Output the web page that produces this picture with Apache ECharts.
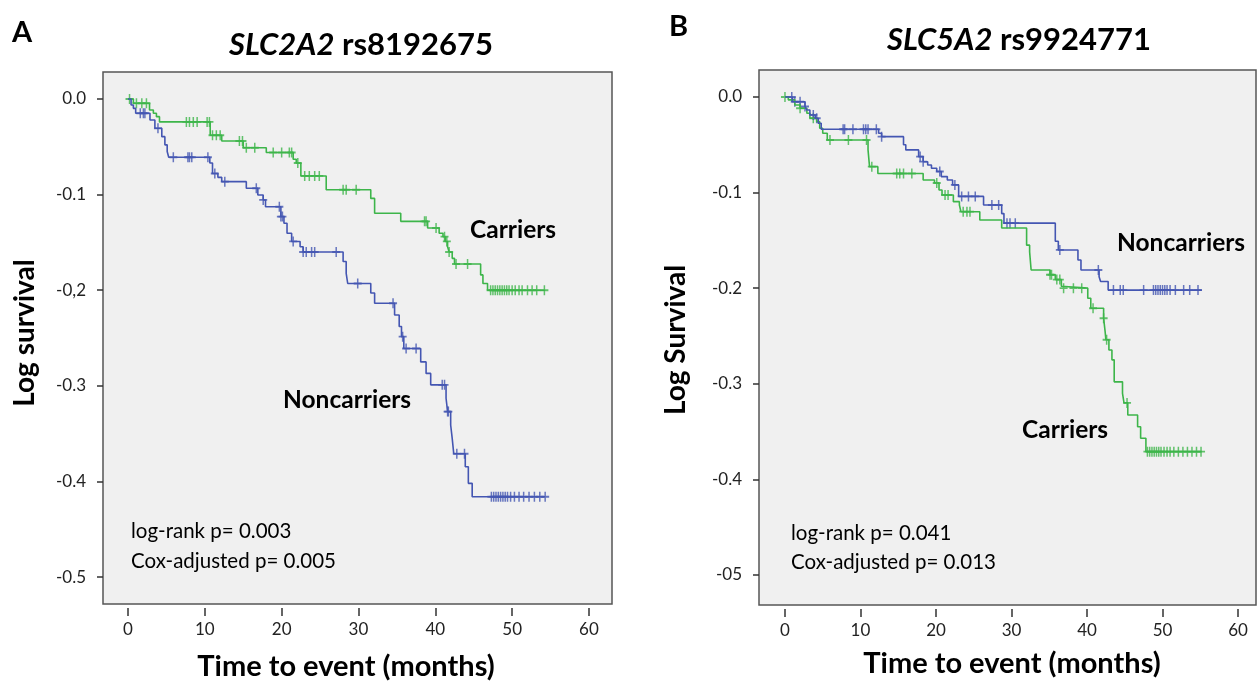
<!DOCTYPE html>
<html>
<head>
<meta charset="utf-8">
<script src="https://cdn.jsdelivr.net/npm/echarts@6/dist/echarts.min.js"></script>
<style>
  body { margin: 0; background: #fff; }
  #main { width: 1259px; height: 684px; }
</style>
</head>
<body>
<div id="main"></div>
<script>
// ---- data ----
const xTicks = [0, 10, 20, 30, 40, 50, 60]
const yTicks = [0, -0.1, -0.2, -0.3, -0.4, -0.5]
const yLabelsA = ['0.0', '-0.1', '-0,2', '-0.3', '-0.4', '-0.5']
const yLabelsB = ['0.0', '-0.1', '-0.2', '-0.3', '-0.4', '-05']

// panel A: SLC2A2 rs8192675, [time, log survival]
const aCarriers = [
  [0, 0], [0.7, -0.0045], [2.8, -0.0115], [3.3, -0.015], [3.7, -0.0185], [4.1, -0.024],
  [10.7, -0.038], [12.2, -0.044], [15.0, -0.051], [18.0, -0.056], [21.5, -0.063], [21.9, -0.067],
  [22.5, -0.0805], [25.8, -0.095], [31.6, -0.104], [32.1, -0.1195], [35.5, -0.128], [39.0, -0.135],
  [40.5, -0.1405], [41.0, -0.144], [41.3, -0.149], [41.6, -0.1545], [41.8, -0.16], [42.2, -0.1667],
  [42.5, -0.1726], [45.9, -0.184], [46.2, -0.193], [46.8, -0.2], [54.3, -0.2]
]
const aCarriersCensor = [
  0.2, 1.1, 1.8, 2.4, 7.6, 8.0, 8.5, 9.0, 10.3, 10.6, 11.0, 11.5, 12.0, 14.5, 14.9, 15.4, 16.5,
  18.9, 20.0, 21.0, 21.3, 22.1, 23.0, 23.6, 24.3, 24.9, 28.0, 28.4, 29.7, 38.6, 38.8, 40.1, 41.2,
  41.5, 41.8, 42.7, 44.2, 47.2, 47.5, 47.8, 48.1, 48.4, 48.7, 49.0, 49.3, 49.6, 50.0, 50.4, 50.9,
  51.3, 52.0, 52.6, 53.2, 54.2
]
const aNoncarriers = [
  [0, 0], [0.4, -0.0063], [0.7, -0.0098], [1.0, -0.015], [2.86, -0.022], [3.5, -0.0307],
  [4.4, -0.0394], [4.8, -0.048], [5.1, -0.055], [5.3, -0.061], [10.65, -0.067], [11.0, -0.078],
  [11.7, -0.082], [12.2, -0.0865], [15.4, -0.0934], [16.9, -0.1004], [17.6, -0.1056], [17.9, -0.1127],
  [19.9, -0.123], [20.3, -0.13], [20.7, -0.1405], [21.3, -0.149], [22.4, -0.1545], [22.8, -0.16],
  [28.0, -0.17], [28.4, -0.1824], [28.6, -0.193], [31.6, -0.203], [32.1, -0.2137], [34.7, -0.226],
  [35.3, -0.238], [35.6, -0.2486], [35.9, -0.261], [38.1, -0.275], [38.8, -0.287], [39.4, -0.299],
  [41.4, -0.313], [41.6, -0.327], [42.0, -0.341], [42.2, -0.355], [42.4, -0.371], [43.9, -0.3846],
  [44.3, -0.402], [44.8, -0.416], [54.3, -0.416]
]
const aNoncarriersCensor = [
  1.6, 2.0, 2.2, 3.9, 5.9, 7.8, 8.0, 8.3, 10.4, 11.3, 12.6, 16.7, 17.6, 19.7, 19.9, 20.1, 21.5,
  22.8, 23.2, 23.9, 24.3, 27.1, 29.9, 34.5, 35.75, 36.2, 37.5, 40.9, 41.2, 41.6, 41.7, 42.8, 43.8,
  47.3, 47.6, 47.9, 48.2, 48.5, 48.8, 49.1, 49.4, 49.8, 50.3, 50.9, 51.5, 52.2, 52.9, 53.6, 54.3
]

// panel B: SLC5A2 rs9924771
const bCarriers = [
  [0, 0], [0.44, -0.003], [1.3, -0.0084], [2.0, -0.0118], [2.9, -0.017], [3.3, -0.0223],
  [4.2, -0.0258], [4.6, -0.0328], [5.0, -0.038], [5.6, -0.045], [11.0, -0.0554], [11.2, -0.0729],
  [12.3, -0.08], [18.3, -0.0868], [19.8, -0.09], [20.4, -0.0973], [20.8, -0.1025], [22.3, -0.1095],
  [23.1, -0.113], [23.3, -0.12], [25.8, -0.1287], [28.7, -0.137], [32.0, -0.155], [32.4, -0.162],
  [32.6, -0.181], [35.1, -0.186], [35.8, -0.191], [36.6, -0.198], [36.8, -0.2], [40.1, -0.2106],
  [40.5, -0.221], [42.2, -0.2315], [42.4, -0.2455], [42.5, -0.254], [42.9, -0.2646], [43.3, -0.275],
  [43.6, -0.298], [44.7, -0.31], [44.9, -0.32], [45.4, -0.3326], [46.7, -0.345], [47.1, -0.357],
  [47.8, -0.371], [55.2, -0.371]
]
const bCarriersCensor = [
  0, 2.0, 3.75, 5.96, 8.4, 10.8, 11.5, 14.8, 15.2, 15.7, 16.8, 20.1, 21.2, 21.6, 23.6, 24.1, 24.5,
  35.1, 35.3, 36.0, 36.4, 36.9, 38.2, 39.3, 40.8, 42.2, 42.6, 45.3, 48.0, 48.3, 48.6, 48.9, 49.2,
  49.5, 49.8, 50.2, 50.6, 51.0, 51.5, 52.1, 52.7, 53.3, 53.9, 54.5, 55.1
]
const bNoncarriers = [
  [0, 0], [1.0, -0.005], [2.65, -0.01], [2.9, -0.0136], [3.3, -0.0188], [4.0, -0.0223],
  [4.4, -0.0275], [4.8, -0.0338], [12.4, -0.038], [12.8, -0.0415], [15.7, -0.05], [16.0, -0.0554],
  [17.7, -0.0624], [18.3, -0.0677], [18.9, -0.0711], [19.4, -0.0746], [20.1, -0.078], [20.7, -0.0833],
  [21.5, -0.0868], [22.2, -0.092], [23.0, -0.104], [26.3, -0.113], [28.7, -0.122], [29.0, -0.132],
  [35.8, -0.151], [36.2, -0.16], [38.8, -0.1705], [39.2, -0.181], [41.6, -0.188], [41.8, -0.193],
  [42.8, -0.202], [55.2, -0.202]
]
const bNoncarriersCensor = [
  0.9, 1.3, 2.0, 2.65, 3.75, 4.2, 7.7, 7.9, 9.0, 10.4, 10.7, 11.0, 12.1, 12.8, 17.9, 18.3, 20.5,
  22.5, 23.4, 24.3, 25.2, 27.4, 28.3, 29.4, 29.8, 30.5, 36.4, 41.5, 43.5, 44.4, 44.8, 47.5, 48.8,
  49.1, 49.4, 49.7, 50.0, 50.3, 50.6, 51.0, 51.7, 52.8, 53.6, 54.7
]

const GREEN = '#3db54a'
const BLUE = '#4456b2'
const FONT = 'Lato, "Open Sans", sans-serif'
// plus-shaped censor mark
const PLUS = 'path://M0,3.25H8V4.75H0Z M3.25,0H4.75V8H3.25Z'

// survival level of a step curve at time t (for placing the censor marks)
function levelAt(curve, t) {
  let v = curve[0][1]
  for (const p of curve) {
    if (p[0] <= t) v = p[1]
  }
  return v
}

function censorPoints(curve, times) {
  return times.map(t => [t, levelAt(curve, t)])
}

function xAxisFor(idx, min, max) {
  return {
    type: 'value', gridIndex: idx, min: min, max: max, offset: 4,
    axisLine: { show: false, onZero: false },
    axisTick: { show: true, length: 8, customValues: xTicks, lineStyle: { color: '#333', width: 1.5 } },
    axisLabel: { customValues: xTicks, margin: 13, fontSize: 17, color: '#222', fontFamily: FONT },
    splitLine: { show: false }
  }
}

function yAxisFor(idx, min, max, labels) {
  return {
    type: 'value', gridIndex: idx, min: min, max: max,
    axisLine: { show: false, onZero: false },
    axisTick: { show: true, length: 6, customValues: yTicks, lineStyle: { color: '#333', width: 1.5 } },
    axisLabel: {
      customValues: yTicks, margin: 17, fontSize: 17, color: '#222', fontFamily: FONT,
      formatter: v => labels[Math.round(-v * 10)]
    },
    splitLine: { show: false }
  }
}

function stepSeries(idx, data, color) {
  return {
    type: 'line', xAxisIndex: idx, yAxisIndex: idx, data: data, step: 'end',
    showSymbol: false, silent: true, animation: false,
    lineStyle: { color: color, width: 1.6 }
  }
}

function censorSeries(idx, curve, times, color) {
  return {
    type: 'scatter', xAxisIndex: idx, yAxisIndex: idx, data: censorPoints(curve, times),
    symbol: PLUS, symbolSize: [8, 10], silent: true, animation: false,
    itemStyle: { color: color }
  }
}

function label(text, x, y, size, weight, extra) {
  return {
    type: 'text', x: x, y: y, silent: true,
    style: Object.assign({
      text: text, fontSize: size, fontWeight: weight, fontFamily: FONT, fill: '#000',
      align: 'left', verticalAlign: 'middle'
    }, extra || {})
  }
}

const titleRich = {
  i: { fontStyle: 'italic', fontWeight: 'bold', fontSize: 31, fontFamily: FONT, fill: '#000' },
  b: { fontWeight: 'bold', fontSize: 31, fontFamily: FONT, fill: '#000' }
}

const myChart = echarts.init(document.getElementById('main'))
const option = {
  backgroundColor: '#fff',
  animation: false,
  grid: [
    { left: 103, top: 72, width: 509, height: 532, show: true, backgroundColor: '#f0f0f0', borderColor: '#555', borderWidth: 1.5 },
    { left: 759, top: 70, width: 497, height: 535, show: true, backgroundColor: '#f0f0f0', borderColor: '#555', borderWidth: 1.5 }
  ],
  xAxis: [xAxisFor(0, -3.254, 63.0), xAxisFor(1, -3.44, 62.38)],
  yAxis: [yAxisFor(0, -0.5282, 0.0282, yLabelsA), yAxisFor(1, -0.5314, 0.0282, yLabelsB)],
  series: [
    stepSeries(0, aCarriers, GREEN),
    stepSeries(0, aNoncarriers, BLUE),
    censorSeries(0, aCarriers, aCarriersCensor, GREEN),
    censorSeries(0, aNoncarriers, aNoncarriersCensor, BLUE),
    stepSeries(1, bCarriers, GREEN),
    stepSeries(1, bNoncarriers, BLUE),
    censorSeries(1, bCarriers, bCarriersCensor, GREEN),
    censorSeries(1, bNoncarriers, bNoncarriersCensor, BLUE)
  ],
  graphic: [
    label('A', 12, 33, 29, 'bold'),
    label('B', 669, 27, 29, 'bold'),
    label('{i|SLC2A2} {b|rs8192675}', 361, 45, 31, 'bold', { align: 'center', rich: titleRich }),
    label('{i|SLC5A2} {b|rs9924771}', 1019, 40, 31, 'bold', { align: 'center', rich: titleRich }),
    label('Log survival', 25, 333, 28, 'bold', { align: 'center' }),
    label('Log Survival', 676, 340, 28, 'bold', { align: 'center' }),
    label('Time to event (months)', 346, 667, 29, 'bold', { align: 'center' }),
    label('Time to event (months)', 1012, 664, 29, 'bold', { align: 'center' }),
    label('Carriers', 470, 230, 24.5, 'bold'),
    label('Noncarriers', 283, 400, 24.5, 'bold'),
    label('Noncarriers', 1117, 243, 24.5, 'bold'),
    label('Carriers', 1022, 430, 24.5, 'bold'),
    label('log-rank p= 0.003', 131, 531, 20.5, 'normal'),
    label('Cox-adjusted p= 0.005', 131, 561, 20.5, 'normal'),
    label('log-rank p= 0.041', 791, 533, 20.5, 'normal'),
    label('Cox-adjusted p= 0.013', 791, 562, 20.5, 'normal')
  ].map((g, i) => (i === 4 || i === 5) ? Object.assign(g, { rotation: Math.PI / 2 }) : g)
}
myChart.setOption(option)
</script>
</body>
</html>
